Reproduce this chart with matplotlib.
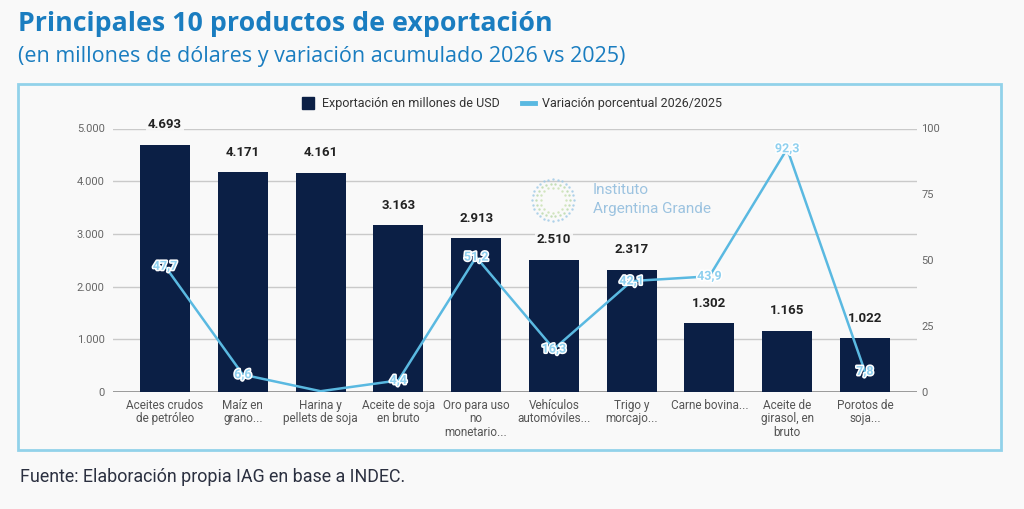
import numpy as np
import matplotlib
matplotlib.use("Agg")
import matplotlib.pyplot as plt
from matplotlib.patches import Rectangle
from matplotlib.lines import Line2D
import matplotlib.patheffects as pe

categories = ["Aceites crudos\nde petróleo", "Maíz en\ngrano...", "Harina y\npellets de soja",
              "Aceite de soja\nen bruto", "Oro para uso\nno\nmonetario...", "Vehículos\nautomóviles...",
              "Trigo y\nmorcajo...", "Carne bovina...", "Aceite de\ngirasol, en\nbruto", "Porotos de\nsoja..."]
exports = [4693, 4171, 4161, 3163, 2913, 2510, 2317, 1302, 1165, 1022]
variation = [47.7, 6.6, 0.3, 4.4, 51.2, 16.3, 42.1, 43.9, 92.3, 7.8]
variation_labels = ["47,7", "6,6", "", "4,4", "51,2", "16,3", "42,1", "43,9", "92,3", "7,8"]
left_ticks = [0, 1000, 2000, 3000, 4000, 5000]
left_tick_labels = ["0", "1.000", "2.000", "3.000", "4.000", "5.000"]
right_ticks = [0, 25, 50, 75, 100]

BG = "#f9f9f9"
NAVY = "#0b1f45"
LINE = "#5ab9e1"
TITLE = "#1a7dc0"

plt.rcParams['font.family'] = ['Roboto', 'DejaVu Sans']

fig = plt.figure(figsize=(10.24, 5.09), dpi=100, facecolor=BG)
W, H = 1024, 509

def fx(px):
    return px / W

def fy(py):
    return 1 - py / H

# frame
fig.patches.append(Rectangle((fx(18), fy(450)), fx(1001) - fx(18), fy(84) - fy(450),
                             transform=fig.transFigure, facecolor='none', edgecolor="#92d2ea",
                             linewidth=2, zorder=-1))

fig.text(fx(18), fy(11), "Principales 10 productos de exportación", fontsize=19.3,
         fontweight='bold', color=TITLE, family=['Open Sans', 'DejaVu Sans'], va='top', ha='left')
fig.text(fx(18), fy(46), "(en millones de dólares y variación acumulado 2026 vs 2025)", fontsize=15.5,
         color=TITLE, family=['Open Sans', 'DejaVu Sans'], va='top', ha='left')
fig.text(fx(20), fy(477), "Fuente: Elaboración propia IAG en base a INDEC.", fontsize=12.9,
         color="#2b3040", va='center', ha='left')

ax = fig.add_axes([fx(113), fy(392), fx(917) - fx(113), fy(128.5) - fy(392)])
ax.set_facecolor('none')
x = np.arange(len(categories))
ax.bar(x, exports, width=0.645, color=NAVY, zorder=2)
ax.set_xlim(-0.67, len(categories) - 0.33)
ax.set_ylim(0, 5000)
ax.set_yticks(left_ticks)
ax.set_yticklabels(left_tick_labels)
ax.grid(axis='y', color='#cacaca', linewidth=1, zorder=0)
ax.axhline(0, color='#8c8c8c', linewidth=1.2, zorder=1)
ax.set_axisbelow(True)
for s in ax.spines.values():
    s.set_visible(False)
ax.tick_params(axis='y', length=0, pad=6, labelsize=8, labelcolor='#666666')
ax.set_xticks(x)
ax.set_xticklabels(categories, fontsize=8.5, color='#555555', linespacing=1.05)
ax.tick_params(axis='x', length=0, pad=5)

for xi, v in zip(x, exports):
    ax.annotate(f"{v:,}".replace(",", "."), (xi, v), xytext=(0, 14.5), textcoords='offset points',
                ha='center', va='center', fontsize=9.5, fontweight='bold', color='#222222',
                bbox=dict(boxstyle='square,pad=0.15', facecolor=BG, edgecolor='none', alpha=0.9),
                zorder=5, annotation_clip=False)

ax2 = ax.twinx()
ax2.set_ylim(0, 100)
ax2.set_yticks(right_ticks)
for s in ax2.spines.values():
    s.set_visible(False)
ax2.tick_params(axis='y', length=0, pad=3, labelsize=8, labelcolor='#666666')
ax2.plot(x, variation, color=LINE, linewidth=1.8, zorder=3)
for xi, v, lab in zip(x, variation, variation_labels):
    if lab:
        ax2.text(xi, v, lab, ha='center', va='center', fontsize=9, color='#8fd0ef', fontweight='bold',
                 path_effects=[pe.withStroke(linewidth=2.2, foreground='white')], zorder=6)

# legend
handles = [Line2D([], [], marker='s', linestyle='none', markersize=8, color=NAVY),
           Line2D([], [], color=LINE, linewidth=3.5)]
fig.legend(handles, ["Exportación en millones de USD", "Variación porcentual 2026/2025"],
           loc='center', bbox_to_anchor=(fx(512), fy(104)), ncol=2, frameon=False,
           fontsize=9, labelcolor='#333333', handlelength=1.0, handletextpad=0.6, columnspacing=1.8)

# watermark logo
lax = fig.add_axes([fx(528), fy(225), fx(50), fy(175) - fy(225)])
lax.set_xlim(-1.2, 1.2)
lax.set_ylim(-1.2, 1.2)
lax.axis('off')
for r, n, col in [(1.0, 28, '#9cc8e6'), (0.8, 22, '#b8d8a8'), (0.6, 16, '#c8e0b0')]:
    t = np.linspace(0, 2 * np.pi, n, endpoint=False)
    lax.scatter(r * np.cos(t), r * np.sin(t), s=3, color=col, alpha=0.8, linewidths=0)
fig.text(fx(593), fy(190), "Instituto", fontsize=11, color='#9cc3e0', va='center', ha='left')
fig.text(fx(593), fy(209), "Argentina Grande", fontsize=11, color='#9cc3e0', va='center', ha='left')

fig.savefig("out.png", dpi=100, facecolor=BG)
